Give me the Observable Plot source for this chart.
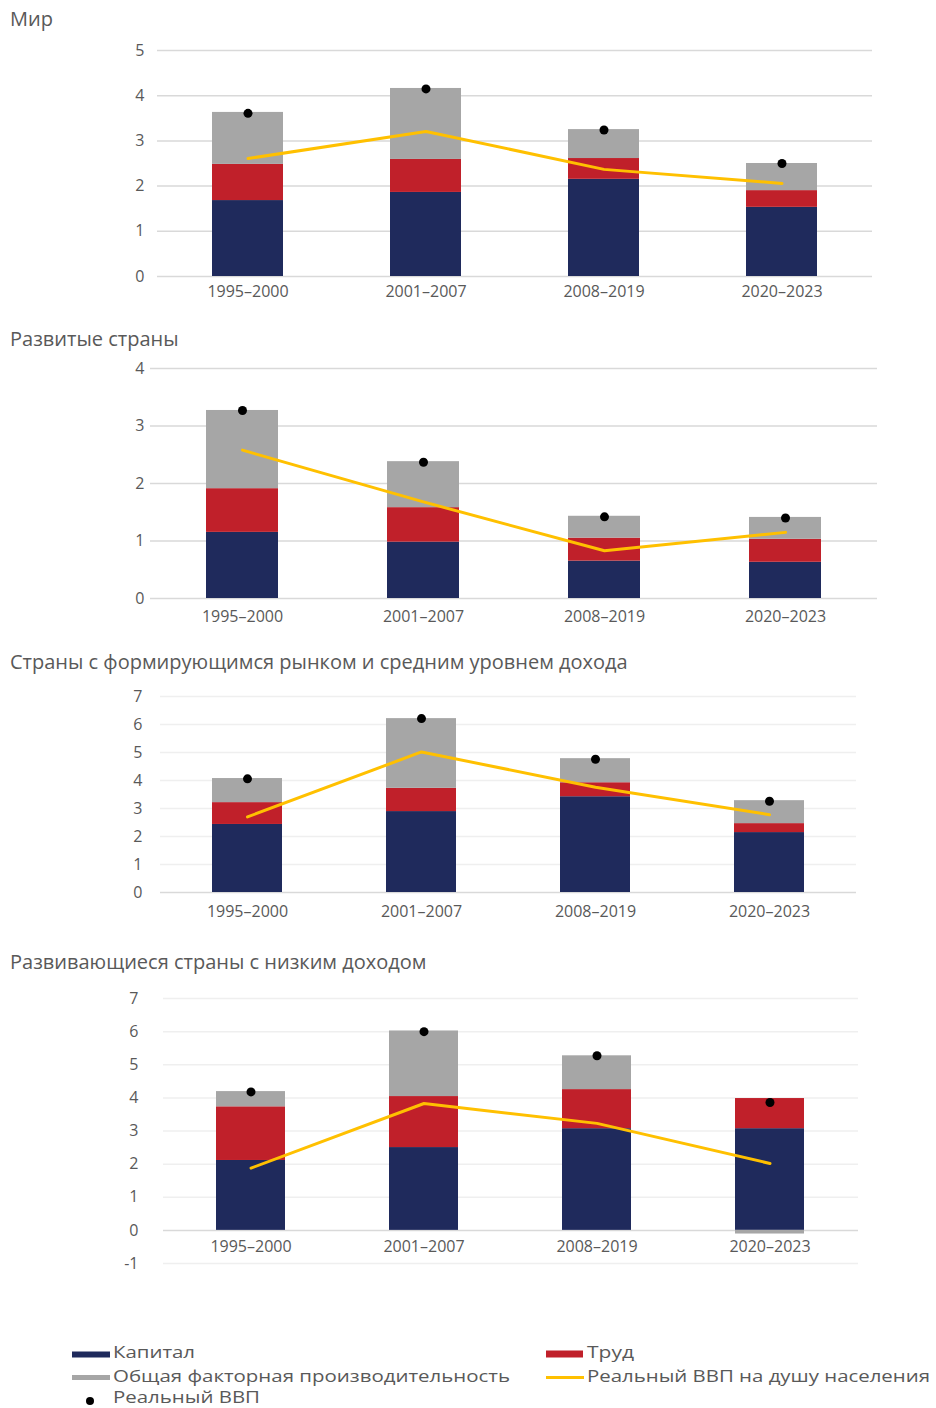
<!DOCTYPE html>
<html><head><meta charset="utf-8">
<script src="https://cdn.jsdelivr.net/npm/d3@7"></script>
<script src="https://cdn.jsdelivr.net/npm/@observablehq/plot@0.6"></script>
<style>
body{margin:0;background:#fff;}
#root{position:relative;width:936px;height:1408px;font-family:"Open Sans",sans-serif;color:#595959;overflow:hidden;}
.title{position:absolute;left:10px;font-size:20px;line-height:20px;white-space:nowrap;color:#595959;}
.panel{position:absolute;left:0;}
.panel svg{overflow:visible;}
</style></head><body><div id="root"></div>
<script>
// ---- Data ----
const periods = ["1995–2000", "2001–2007", "2008–2019", "2020–2023"];
const components = ["Капитал", "Труд", "Общая факторная производительность"];
const componentColors = ["#1f2a5c", "#c0202a", "#a6a6a6"];
const titles = ["Мир", "Развитые страны", "Страны с формирующимся рынком и средним уровнем дохода", "Развивающиеся страны с низким доходом"];

// Мир
const worldCapital = [1.68, 1.86, 2.15, 1.53];
const worldLabor   = [0.80, 0.73, 0.46, 0.37];
const worldTFP     = [1.15, 1.57, 0.64, 0.60];
const worldGDP     = [3.61, 4.15, 3.24, 2.50];
const worldGDPpc   = [2.61, 3.21, 2.37, 2.06];
// Развитые страны
const advCapital = [1.15, 0.98, 0.65, 0.63];
const advLabor   = [0.76, 0.60, 0.40, 0.40];
const advTFP     = [1.36, 0.80, 0.38, 0.38];
const advGDP     = [3.27, 2.37, 1.42, 1.40];
const advGDPpc   = [2.58, 1.68, 0.83, 1.15];
// Страны с формирующимся рынком
const emCapital = [2.43, 2.89, 3.42, 2.14];
const emLabor   = [0.78, 0.83, 0.50, 0.32];
const emTFP     = [0.86, 2.49, 0.86, 0.82];
const emGDP     = [4.06, 6.21, 4.76, 3.26];
const emGDPpc   = [2.70, 5.02, 3.76, 2.78];
// Развивающиеся страны с низким доходом
const lidcCapital = [2.11, 2.50, 3.07, 3.07];
const lidcLabor   = [1.62, 1.54, 1.18, 0.91];
const lidcTFP     = [0.46, 1.98, 1.02, -0.11];
const lidcGDP     = [4.18, 6.00, 5.27, 3.86];
const lidcGDPpc   = [1.88, 3.83, 3.23, 2.02];

const ticks1 = [0, 1, 2, 3, 4, 5];
const ticks2 = [0, 1, 2, 3, 4];
const ticks3 = [0, 1, 2, 3, 4, 5, 6, 7];
const ticks4 = [-1, 0, 1, 2, 3, 4, 5, 6, 7];

const legendLabels = ["Капитал", "Труд", "Общая факторная производительность", "Реальный ВВП на душу населения", "Реальный ВВП"];

// ---- Layout ----
const root = document.getElementById("root");
const layout = [
  {titleTop: 9, top: 30, height: 276, mt: 20, mb: 30, left: 157, right: 872, pad: 13, dy: 15.5, grid: "#d9d9d9", zero: "#d9d9d9", ticks: ticks1,
   d: [worldCapital, worldLabor, worldTFP, worldGDP, worldGDPpc]},
  {titleTop: 329, top: 350, height: 278, mt: 18, mb: 30, left: 150, right: 877, pad: 6, dy: 18, grid: "#d9d9d9", zero: "#d9d9d9", ticks: ticks2,
   d: [advCapital, advLabor, advTFP, advGDP, advGDPpc]},
  {titleTop: 652, top: 680, height: 242, mt: 16, mb: 30, left: 160, right: 856, pad: 18, dy: 19, grid: "#efefef", zero: "#d9d9d9", ticks: ticks3,
   d: [emCapital, emLabor, emTFP, emGDP, emGDPpc]},
  {titleTop: 952, top: 980, height: 293, mt: 18, mb: 10, left: 163, right: 858, pad: 25, dy: 16, grid: "#efefef", zero: "#d9d9d9", ticks: ticks4,
   d: [lidcCapital, lidcLabor, lidcTFP, lidcGDP, lidcGDPpc]}
];

layout.forEach((p, k) => {
  const t = document.createElement("div");
  t.className = "title";
  t.style.top = p.titleTop + "px";
  t.textContent = titles[k];
  root.appendChild(t);

  const [cap, lab, tfp, gdp, pc] = p.d;
  const rows = [];
  periods.forEach((per, i) => {
    rows.push({period: per, comp: components[0], v: cap[i]});
    rows.push({period: per, comp: components[1], v: lab[i]});
    rows.push({period: per, comp: components[2], v: tfp[i]});
  });
  const pts = periods.map((per, i) => ({period: per, gdp: gdp[i], pc: pc[i]}));
  const domain = [p.ticks[0], p.ticks[p.ticks.length - 1]];

  const chart = Plot.plot({
    width: 936, height: p.height,
    marginTop: p.mt, marginBottom: p.mb, marginLeft: p.left, marginRight: 936 - p.right,
    style: {fontFamily: "Open Sans", fontSize: "16px", color: "#595959", background: "transparent", overflow: "visible"},
    x: {domain: periods, paddingInner: 0.6, paddingOuter: 0.3, axis: null},
    y: {domain, axis: null},
    color: {domain: components, range: componentColors},
    marks: [
      Plot.ruleY(p.ticks.filter(v => v !== 0), {y: d => d, stroke: p.grid, strokeWidth: 1.5}),
      Plot.ruleY([0], {y: d => d, stroke: p.zero, strokeWidth: 1.5}),
      Plot.barY(rows, {x: "period", y: "v", fill: "comp"}),
      Plot.line(pts, {x: "period", y: "pc", stroke: "#ffc000", strokeWidth: 3, strokeLinecap: "round", strokeLinejoin: "round"}),
      Plot.dot(pts, {x: "period", y: "gdp", r: 4.5, fill: "#000", stroke: "none"}),
      Plot.axisY(p.ticks, {tickSize: 0, tickPadding: p.pad, tickFormat: d => String(d), fontSize: 16, fill: "#595959"}),
      Plot.text(periods, {x: d => d, y: () => 0, dy: p.dy, fontSize: 16, fill: "#595959"})
    ]
  });
  const wrap = document.createElement("div");
  wrap.className = "panel";
  wrap.style.top = p.top + "px";
  wrap.appendChild(chart);
  root.appendChild(wrap);
});

// ---- Legend ----
const legendTop = 1335;
const lg = d3.select(root).append("svg")
  .attr("width", 936).attr("height", 73)
  .style("position", "absolute").style("left", "0px").style("top", legendTop + "px")
  .style("font-family", "Open Sans").style("font-size", "17px");
const items = [
  {type: "rect", color: componentColors[0], sx: 72, sy: 16.5, sw: 38, sh: 6, tx: 113, ty: 23, tl: 82, label: legendLabels[0]},
  {type: "rect", color: componentColors[1], sx: 546, sy: 15.5, sw: 37, sh: 7, tx: 587, ty: 23, tl: 47, label: legendLabels[1]},
  {type: "rect", color: componentColors[2], sx: 72, sy: 40, sw: 38, sh: 5, tx: 113, ty: 47, tl: 397, label: legendLabels[2]},
  {type: "line", color: "#ffc000", sx: 546, sy: 42.5, sw: 38, tx: 587, ty: 47, tl: 343, label: legendLabels[3]},
  {type: "dot", color: "#000", sx: 90, sy: 66, tx: 113, ty: 68, tl: 147, label: legendLabels[4]}
];
items.forEach(it => {
  if (it.type === "rect") lg.append("rect").attr("x", it.sx).attr("y", it.sy).attr("width", it.sw).attr("height", it.sh).attr("fill", it.color);
  else if (it.type === "line") lg.append("line").attr("x1", it.sx).attr("x2", it.sx + it.sw).attr("y1", it.sy).attr("y2", it.sy).attr("stroke", it.color).attr("stroke-width", 3);
  else lg.append("circle").attr("cx", it.sx).attr("cy", it.sy).attr("r", 4).attr("fill", it.color);
  lg.append("text").attr("x", it.tx).attr("y", it.ty).attr("fill", "#595959")
    .attr("textLength", it.tl).attr("lengthAdjust", "spacingAndGlyphs").text(it.label);
});
</script></body></html>
